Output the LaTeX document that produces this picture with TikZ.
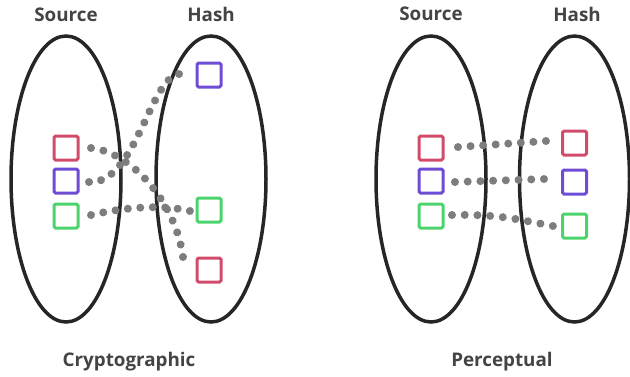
\documentclass[tikz,border=0pt]{standalone}
\usepackage{fontspec}
\setsansfont{Open Sans}
\usetikzlibrary{decorations.markings}
\begin{document}
\begin{tikzpicture}[x=1pt,y=-1pt,
  set/.style={line width=3.5pt,draw=setgray},
  elem/.style={draw=#1,line width=3pt,rounded corners=1.5pt,minimum size=24pt,inner sep=0pt},
  link/.style={decoration={markings,mark=between positions 0 and 1 step #1 with {\fill[dotgray] (0,0) circle (4pt);}},postaction={decorate}},
  lbl/.style={text=lblgray,font=\sffamily\bfseries\fontsize{18.8}{22}\selectfont}]
\definecolor{setgray}{HTML}{262626}
\definecolor{dotgray}{HTML}{7D7D7D}
\definecolor{lblgray}{HTML}{444444}
\definecolor{elred}{HTML}{D24B6B}
\definecolor{elpurple}{HTML}{6E4CD6}
\definecolor{elgreen}{HTML}{4CD46C}
\useasboundingbox (0,0) rectangle (630,376);
\foreach \x in {66,211,431,574.5}
{
\draw[set] (\x,179) ellipse [x radius=55pt, y radius=143pt];
}
\node[lbl] (srcA) at (66,15) {Source};
\node[lbl] (hashA) at (211,14) {Hash};
\node[lbl] (srcB) at (431,14) {Source};
\node[lbl] (hashB) at (577,14) {Hash};
\node[lbl] (crypto) at (129,362) {Cryptographic};
\node[lbl] (percep) at (502,362) {Perceptual};
\foreach \c/\n/\y in {elred/r/148,elpurple/p/181,elgreen/g/216}
{
\node[elem=\c] (sA\n) at (66,\y) {};
\node[elem=\c] (sB\n) at (431,\y) {};
}
\node[elem=elpurple] (hAp) at (209,75) {};
\node[elem=elgreen] (hAg) at (209,210) {};
\node[elem=elred] (hAr) at (209,270) {};
\node[elem=elred] (hBr) at (574.5,143) {};
\node[elem=elpurple] (hBp) at (574.5,182) {};
\node[elem=elgreen] (hBg) at (574.5,226) {};
\path[link=0.0833] ([shift={(11.5,0)}]sAr.east) .. controls +(39,4) and +(-8,-57) .. ([shift={(-12.5,-13)}]hAr.west);
\path[link=0.0833] ([shift={(9.5,1)}]sAp.east) .. controls +(46,3) and +(-29,4) .. ([shift={(-16.5,-1)}]hAp.west);
\path[link=0.1249] ([shift={(11.5,-1)}]sAg.east) .. controls +(39,-9) and +(-25,-6) .. ([shift={(-5.5,1)}]hAg.west);
\path[link=0.1428] ([shift={(13.5,-1)}]sBr.east) -- ([shift={(-15,-2)}]hBr.west);
\path[link=0.1428] ([shift={(10.5,1)}]sBp.east) -- ([shift={(-17,-3)}]hBp.west);
\path[link=0.1249] ([shift={(7.5,-1)}]sBg.east) .. controls +(48,-1) and +(-33,-6) .. ([shift={(-8,0)}]hBg.west);
\end{tikzpicture}
\end{document}
